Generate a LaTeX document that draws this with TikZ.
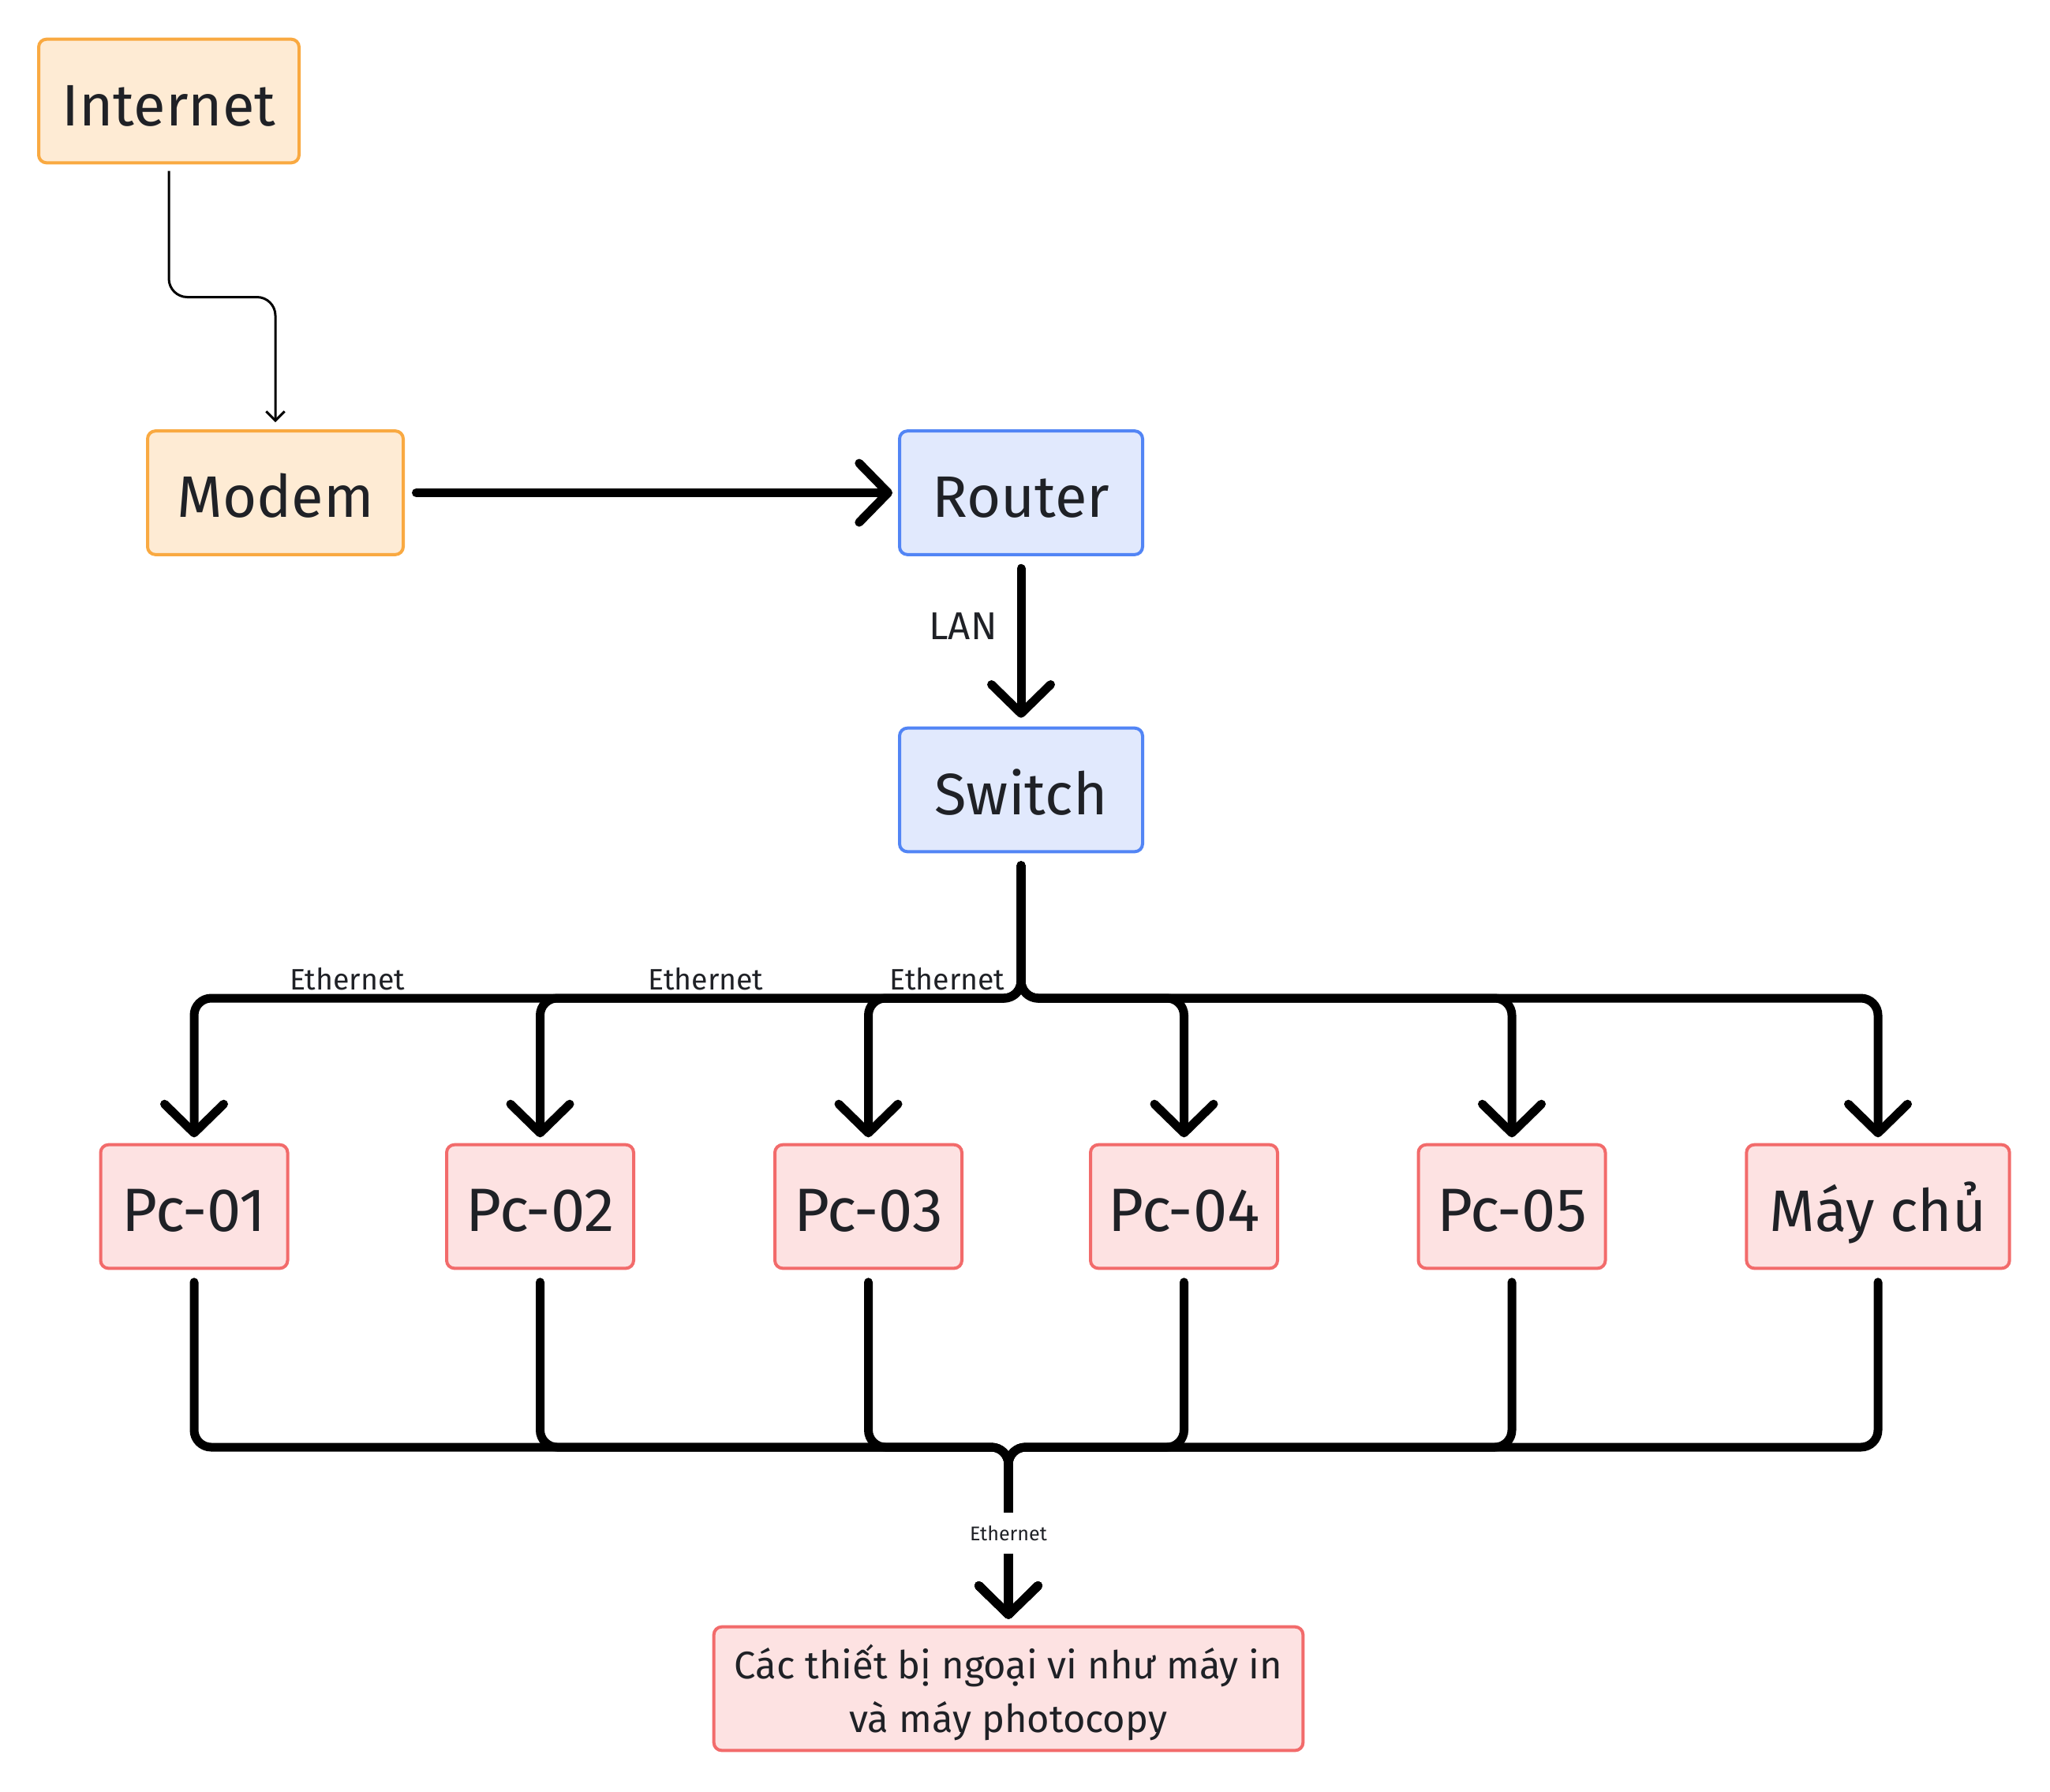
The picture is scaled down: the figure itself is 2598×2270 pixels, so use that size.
\documentclass[tikz,border=0pt]{standalone}
\usepackage{fontspec}
\setmainfont{Fira Sans}
\usetikzlibrary{arrows.meta}

\definecolor{inkT}{HTML}{1F2126}
\definecolor{oranF}{HTML}{FEEBD4}
\definecolor{oranD}{HTML}{F9A941}
\definecolor{blueF}{HTML}{E1E9FD}
\definecolor{blueD}{HTML}{5285F5}
\definecolor{redF}{HTML}{FDE2E2}
\definecolor{redD}{HTML}{F26B6B}

\begin{document}
\begin{tikzpicture}[x = 0.6pt, y = -0.6pt]
\tikzstyle{BoxStyle}=[shape = rectangle, rounded corners = 6pt, line width = 2.4pt,
minimum height = 94pt, inner sep = 0pt, text = inkT, text height = 37.5pt, text depth = 0pt,
font = \fontsize{44.5}{52}\selectfont]
\tikzstyle{OrangeBox}=[BoxStyle, draw = oranD, fill = oranF]
\tikzstyle{BlueBox}=[BoxStyle, draw = blueD, fill = blueF]
\tikzstyle{RedBox}=[BoxStyle, draw = redD, fill = redF]
\tikzstyle{PcBox}=[RedBox, minimum width = 142.2pt, font = \fontsize{46.5}{54}\selectfont]
\tikzstyle{Wire}=[draw, line width = 1.8pt, rounded corners = 14pt,
-{Straight Barb[length = 7pt, width = 14pt]}]
\tikzstyle{Bus}=[draw, line width = 6.6pt, rounded corners = 13pt, line cap = round,
-{Straight Barb[length = 22pt, width = 45pt, round]}]
\tikzstyle{EdgeLabel}=[text = inkT, inner sep = 0pt]
\useasboundingbox (0,0) rectangle (2598,2270);
% boxes
\node[OrangeBox, minimum width = 198pt] (inet) at (214,128) {Internet};
\node[OrangeBox, minimum width = 194.4pt] (modem) at (349,624.5) {Modem};
\node[BlueBox, minimum width = 184.8pt] (router) at (1294,624.5) {Router};
\node[BlueBox, minimum width = 184.8pt] (switch) at (1294,1001) {Switch};
\node[PcBox] (pc1) at (246,1529) {Pc-01};
\node[PcBox] (pc2) at (684.5,1529) {Pc-02};
\node[PcBox] (pc3) at (1100.5,1529) {Pc-03};
\node[PcBox] (pc4) at (1500.5,1529) {Pc-04};
\node[PcBox] (pc5) at (1916,1529) {Pc-05};
\node[RedBox, minimum width = 200pt] (srv) at (2380,1529) {Máy chủ};
\node[RedBox, minimum width = 448pt, align = center, text height = {}, text depth = 0pt,
font = \fontsize{29.3}{40.7}\selectfont] (prn) at (1278,2140)
{Các thiết bị ngoại vi như máy in\\và máy photocopy};
% bends
\coordinate (k1) at (214,376.5);
\coordinate (top) at (1294,1265);
\coordinate (bot) at (1278,1834);
% links
\draw[Wire, shorten < = 5pt, shorten > = 5.4pt] (inet.south) -- (k1) -| (modem.north);
\draw[Bus, shorten < = 8.7pt, shorten > = 4.2pt] (modem.east) -- (router.west);
\draw[Bus, shorten < = 9.3pt, shorten > = 6.6pt] (router.south) -- (switch.north);
\foreach \p in {pc1, pc2, pc3, pc4, pc5, srv}
  \draw[Bus, shorten < = 9.3pt, shorten > = 4.4pt] (switch.south) -- (top) -| (\p.north);
\foreach \p in {pc1, pc2, pc3, pc4, pc5, srv}
  \draw[Bus, shorten < = 9.3pt, shorten > = 4.8pt] (\p.south) |- (bot) -- (prn.north);
% labels
\node[EdgeLabel, anchor = base, font = \fontsize{29.5}{34}\selectfont] (lan) at (1220.5,810) {LAN};
\node[EdgeLabel, anchor = base, font = \fontsize{22.5}{27}\selectfont] (e1) at (440,1254) {Ethernet};
\node[EdgeLabel, anchor = base, font = \fontsize{22.5}{27}\selectfont] (e2) at (894.5,1254) {Ethernet};
\node[EdgeLabel, anchor = base, font = \fontsize{22.5}{27}\selectfont] (e3) at (1200.5,1254) {Ethernet};
\node[EdgeLabel, fill = white, minimum height = 31pt, inner xsep = 3pt,
font = \fontsize{15.1}{18}\selectfont] (e4) at (1278,1943) {Ethernet};
\end{tikzpicture}
\end{document}
